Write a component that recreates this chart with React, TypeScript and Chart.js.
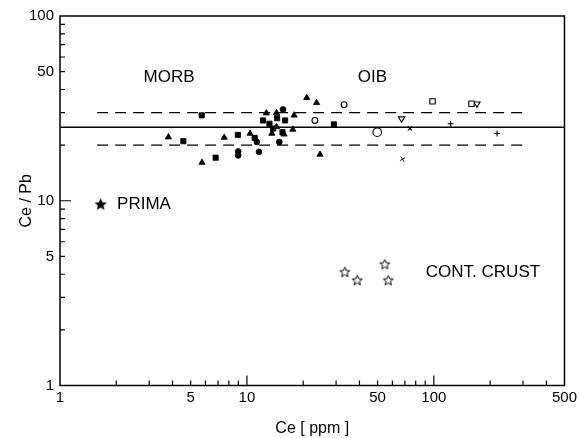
import React, { useEffect, useRef } from "react";
import { Chart, registerables } from "chart.js";
Chart.register(...registerables);

// ---- Axis ticks ----
const X_TICKS = [1, 5, 10, 50, 100, 500];
const Y_TICKS = [1, 5, 10, 50, 100];
const X_MINOR = [2, 3, 4, 5, 6, 7, 8, 9, 20, 30, 40, 50, 60, 70, 80, 90, 200, 300, 400];
const X_MAJOR = [10, 100];
const Y_MINOR = [2, 3, 4, 5, 6, 7, 8, 9, 20, 30, 40, 50, 60, 70, 80, 90];
const Y_MAJOR = [10];

// ---- Reference lines (Ce/Pb) ----
const REF_MEAN = 25;
const REF_HIGH = 30;
const REF_LOW = 20;
const SOLID_CE = [1, 500];
const DASHED_CE = [1.58, 320];

// ---- MORB (filled symbols) ----
const MORB_TRI_CE = [20.9, 23.6, 12.7, 14.4, 17.9, 17.6, 15.8, 3.8, 7.56, 10.4, 5.75, 24.6, 13.6, 14.4];
const MORB_TRI_CEPB = [36.1, 33.9, 29.8, 29.9, 29.0, 24.3, 22.9, 22.1, 22.0, 23.1, 16.1, 17.8, 23.1, 25.1];
const MORB_SQ_CE = [5.73, 4.57, 6.8, 8.95, 12.2, 16.0, 13.2, 13.8, 15.5, 29.2, 11.0, 14.5];
const MORB_SQ_CEPB = [29.0, 21.0, 17.1, 22.7, 27.2, 27.2, 26.1, 24.6, 23.5, 25.9, 21.9, 28.0];
const MORB_CIR_CE = [15.6, 14.9, 11.6, 8.98, 8.98, 11.3];
const MORB_CIR_CEPB = [31.2, 20.8, 18.4, 18.5, 17.6, 20.8];

// ---- OIB (open symbols) ----
const OIB_CIR_SMALL_CE = [33.1, 23.1];
const OIB_CIR_SMALL_CEPB = [33.1, 27.2];
const OIB_CIR_LARGE_CE = [49.8];
const OIB_CIR_LARGE_CEPB = [23.5];
const OIB_SQ_CE = [98.4, 159];
const OIB_SQ_CEPB = [34.5, 33.5];
const OIB_INVTRI_CE = [67.2, 170];
const OIB_INVTRI_CEPB = [27.8, 33.5];
const OIB_X_CE = [74.5];
const OIB_X_CEPB = [24.6];
const OIB_PLUS_CE = [123, 218];
const OIB_PLUS_CEPB = [26.1, 23.1];
const OIB_MISC_CE = [68];
const OIB_MISC_CEPB = [16.8];

// ---- Primitive mantle & continental crust ----
const PRIMA_CE = [1.65];
const PRIMA_CEPB = [9.6];
const CRUST_CE = [33.4, 38.9, 54.7, 57.0];
const CRUST_CEPB = [4.12, 3.72, 4.54, 3.72];

// ---- Text annotations (data coordinates, left anchored) ----
const ANNOTATIONS = [
  { text: "MORB", ce: 2.8, cepb: 46.5 },
  { text: "OIB", ce: 39.2, cepb: 46.5 },
  { text: "PRIMA", ce: 2.02, cepb: 9.6 },
  { text: "CONT. CRUST", ce: 90.6, cepb: 4.08 },
];

const FONT = "'Liberation Sans', Arial, sans-serif";

const pts = (xs: number[], ys: number[]) => xs.map((x, i) => ({ x, y: ys[i] }));

function makeStar(outer: number, filled: boolean) {
  const pad = 2;
  const size = Math.ceil(outer * 2 + pad * 2);
  const c = document.createElement("canvas");
  c.width = size;
  c.height = size;
  const g = c.getContext("2d")!;
  const cx = size / 2;
  const cy = size / 2 + 0.5;
  const inner = outer * 0.45;
  g.beginPath();
  for (let i = 0; i < 10; i++) {
    const r = i % 2 === 0 ? outer : inner;
    const a = -Math.PI / 2 + (i * Math.PI) / 5;
    const px = cx + r * Math.cos(a);
    const py = cy + r * Math.sin(a);
    if (i === 0) g.moveTo(px, py);
    else g.lineTo(px, py);
  }
  g.closePath();
  if (filled) {
    g.fillStyle = "#000";
    g.fill();
  } else {
    g.fillStyle = "#fff";
    g.fill();
    g.lineWidth = 1;
    g.strokeStyle = "#000";
    g.stroke();
  }
  return c;
}

export default function App() {
  const ref = useRef<HTMLCanvasElement | null>(null);

  useEffect(() => {
    if (!ref.current) return;
    Chart.defaults.font.family = FONT;
    const filledStar = makeStar(6.5, true);
    const openStar = makeStar(5.2, false);

    const framePlugin = {
      id: "frameTicks",
      beforeDraw(chart: any) {
        const { ctx } = chart;
        ctx.save();
        ctx.fillStyle = "#fff";
        ctx.fillRect(0, 0, chart.width, chart.height);
        ctx.restore();
      },
      afterDraw(chart: any) {
        const { ctx, chartArea: a, scales } = chart;
        ctx.save();
        ctx.strokeStyle = "#000";
        ctx.lineWidth = 1.5;
        ctx.strokeRect(a.left, a.top, a.right - a.left, a.bottom - a.top);
        ctx.lineWidth = 1.2;
        ctx.beginPath();
        const xt = (v: number, len: number) => {
          const p = scales.x.getPixelForValue(v);
          ctx.moveTo(p, a.bottom);
          ctx.lineTo(p, a.bottom - len);
        };
        const yt = (v: number, len: number) => {
          const p = scales.y.getPixelForValue(v);
          ctx.moveTo(a.left, p);
          ctx.lineTo(a.left + len, p);
        };
        X_MINOR.forEach((v) => xt(v, 5));
        X_MAJOR.forEach((v) => xt(v, 10));
        Y_MINOR.forEach((v) => yt(v, 5));
        Y_MAJOR.forEach((v) => yt(v, 11));
        ctx.stroke();
        ctx.restore();
      },
      afterDatasetsDraw(chart: any) {
        const { ctx, scales } = chart;
        ctx.save();
        ctx.fillStyle = "#000";
        ctx.font = `17px ${FONT}`;
        ctx.textAlign = "left";
        ctx.textBaseline = "middle";
        ANNOTATIONS.forEach((an) => {
          ctx.fillText(an.text, scales.x.getPixelForValue(an.ce), scales.y.getPixelForValue(an.cepb));
        });
        ctx.restore();
      },
    };

    const lineDs = (xs: number[], y: number, dash: number[]) => ({
      type: "line" as const,
      data: xs.map((x) => ({ x, y })),
      borderColor: "#000",
      borderWidth: 1.4,
      borderDash: dash,
      pointRadius: 0,
      fill: false,
      showLine: true,
    });

    const filled = (xs: number[], ys: number[], style: string, r: number) => ({
      data: pts(xs, ys),
      pointStyle: style,
      pointRadius: r,
      backgroundColor: "#000",
      borderColor: "#000",
      borderWidth: 0.8,
    });
    const open = (xs: number[], ys: number[], style: any, r: number, rot = 0, bw = 1.1) => ({
      data: pts(xs, ys),
      pointStyle: style,
      pointRadius: r,
      rotation: rot,
      backgroundColor: "#fff",
      borderColor: "#000",
      borderWidth: bw,
    });

    const chart = new Chart(ref.current, {
      type: "scatter",
      data: {
        datasets: [
          lineDs(SOLID_CE, REF_MEAN, []),
          lineDs(DASHED_CE, REF_HIGH, [11, 7]),
          lineDs(DASHED_CE, REF_LOW, [11, 7]),
          filled(MORB_TRI_CE, MORB_TRI_CEPB, "triangle", 3.6),
          filled(MORB_SQ_CE, MORB_SQ_CEPB, "rect", 3.7),
          filled(MORB_CIR_CE, MORB_CIR_CEPB, "circle", 2.9),
          open(OIB_CIR_SMALL_CE, OIB_CIR_SMALL_CEPB, "circle", 2.9),
          open(OIB_CIR_LARGE_CE, OIB_CIR_LARGE_CEPB, "circle", 4.3),
          open(OIB_SQ_CE, OIB_SQ_CEPB, "rect", 3.8),
          open(OIB_INVTRI_CE, OIB_INVTRI_CEPB, "triangle", 3.6, 180),
          open(OIB_X_CE, OIB_X_CEPB, "crossRot", 3),
          open(OIB_PLUS_CE, OIB_PLUS_CEPB, "cross", 3),
          open(OIB_MISC_CE, OIB_MISC_CEPB, "crossRot", 3, 15, 0.9),
          { data: pts(PRIMA_CE, PRIMA_CEPB), pointStyle: filledStar, pointRadius: 6 },
          { data: pts(CRUST_CE, CRUST_CEPB), pointStyle: openStar, pointRadius: 5 },
        ] as any,
      },
      options: {
        responsive: false,
        animation: false,
        events: [],
        layout: { padding: { top: 16, right: 14, left: 0, bottom: 0 } },
        plugins: { legend: { display: false }, tooltip: { enabled: false } },
        scales: {
          x: {
            type: "logarithmic",
            position: "bottom",
            min: 1,
            max: 500,
            afterBuildTicks: (s: any) => {
              s.ticks = X_TICKS.map((v) => ({ value: v }));
            },
            afterFit: (s: any) => {
              s.height = 52.5;
            },
            grid: { display: false, drawTicks: false },
            border: { display: false },
            ticks: {
              color: "#000",
              font: { size: 15, family: FONT },
              padding: 3,
              maxRotation: 0,
              autoSkip: false,
              callback: (v: any) => String(v),
            },
            title: {
              display: true,
              text: "Ce [ ppm ]",
              color: "#000",
              font: { size: 16, family: FONT },
              padding: { top: 0, bottom: 0 },
            },
          },
          y: {
            type: "logarithmic",
            position: "left",
            min: 1,
            max: 100,
            afterBuildTicks: (s: any) => {
              s.ticks = Y_TICKS.map((v) => ({ value: v }));
            },
            afterFit: (s: any) => {
              s.width = 60;
            },
            grid: { display: false, drawTicks: false },
            border: { display: false },
            ticks: {
              color: "#000",
              font: { size: 15, family: FONT },
              padding: 6,
              autoSkip: false,
              callback: (v: any) => String(v),
            },
            title: {
              display: true,
              text: "Ce / Pb",
              color: "#000",
              font: { size: 16, family: FONT },
              padding: { top: 17, bottom: 0 },
            },
          },
        },
      } as any,
      plugins: [framePlugin],
    });
    return () => chart.destroy();
  }, []);

  return (
    <div style={{ position: "fixed", left: 0, top: 0, width: 580, height: 438, background: "#fff" }}>
      <canvas ref={ref} width={580} height={438} style={{ display: "block", width: 580, height: 438 }} />
    </div>
  );
}
